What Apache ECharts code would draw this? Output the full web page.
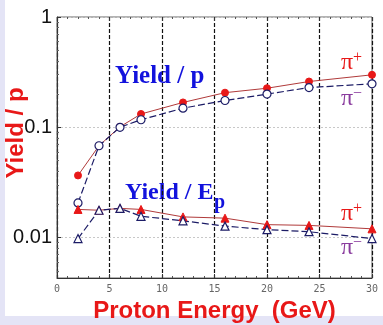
<!DOCTYPE html>
<html>
<head>
    <meta http-equiv="Content-Type" content="text/html; charset=UTF-8">
    <title>Yield vs proton energy</title>
    <script src="https://cdn.jsdelivr.net/npm/echarts@6/dist/echarts.min.js"></script>
    <style>
        html, body { margin: 0; padding: 0; }
    </style>
</head>
<body>
<div id="yieldChart" style="width: 383px; height: 325px;"></div>

<script type="text/javascript">
    // proton beam energy (GeV)
    var energy = [2, 4, 6, 8, 12, 16, 20, 24, 30];
    // yield per proton
    var yieldPiPlus  = [0.0366, 0.068, 0.101, 0.132, 0.168, 0.206, 0.226, 0.26, 0.299];
    var yieldPiMinus = [0.0206, 0.068, 0.100, 0.117, 0.149, 0.175, 0.200, 0.229, 0.248];
    // yield per proton energy
    var yieldEpPiPlus  = [0.0180, 0.0177, 0.0184, 0.0180, 0.0154, 0.0150, 0.0131, 0.0129, 0.0120];
    var yieldEpPiMinus = [0.0098, 0.0177, 0.0184, 0.0156, 0.0142, 0.0127, 0.0118, 0.0113, 0.0098];
    // labelled decades on the log axis
    var yTickLabels = [0.01, 0.1, 1];

    function pairs(ys) {
        var res = [];
        for (var i = 0; i < energy.length; i++) {
            res.push([energy[i], ys[i]]);
        }
        return res;
    }

    var red = '#e81818';
    var navy = '#1c1c66';
    var purple = '#8a3c9e';
    var piFont = '24px "Liberation Serif", serif';
    var supFont = '16px "Liberation Serif", serif';

    function piLabel(x, y, sign, color) {
        return {
            type: 'text', left: x, top: y,
            style: {
                text: '{a|π}{b|' + sign + '}',
                rich: {
                    a: { fill: color, font: piFont, lineHeight: 26 },
                    b: { fill: color, font: supFont, lineHeight: 26, padding: [0, 0, 10, 0] }
                }
            }
        };
    }

    var chart = echarts.init(document.getElementById('yieldChart'));

    chart.setOption({
        backgroundColor: '#e4e4f6',
        animation: false,
        grid: {
            left: 57, right: 11, top: 17, bottom: 47,
            outerBoundsMode: 'none',
            containLabel: false,
            show: true,
            borderColor: '#666',
            borderWidth: 1
        },
        graphic: [
            {   // white panel, lavender edge left & bottom
                type: 'rect', z: -100, silent: true,
                shape: { x: 5, y: 0, width: 378, height: 316 },
                style: { fill: '#ffffff' }
            },
            {   // y axis title
                type: 'text', x: 16, y: 133, rotation: Math.PI / 2,
                style: { text: 'Yield / p', fill: red, align: 'center', verticalAlign: 'middle',
                    font: 'bold 24px "Liberation Sans", Arial, sans-serif' }
            },
            {
                type: 'text', left: 115, top: 64,
                style: { text: 'Yield / p', fill: '#1212dd',
                    font: 'bold 25px "Liberation Serif", serif' }
            },
            {
                type: 'text', left: 125, top: 181,
                style: { text: 'Yield / E', fill: '#1212dd',
                    font: 'bold 24px "Liberation Serif", serif' }
            },
            {
                type: 'text', left: 214, top: 193,
                style: { text: 'p', fill: '#1212dd',
                    font: 'bold 20px "Liberation Serif", serif' }
            },
            piLabel(341, 50, '+', red),
            piLabel(341, 86, '−', purple),
            piLabel(341, 201, '+', red),
            piLabel(341, 235, '−', purple)
        ],
        xAxis: [
            {
                type: 'value',
                min: 0, max: 30, interval: 5,
                name: 'Proton Energy  (GeV)',
                nameLocation: 'middle',
                nameGap: 20,
                nameTextStyle: { color: red, fontSize: 24, fontWeight: 'bold',
                    fontFamily: '"Liberation Sans", Arial, sans-serif' },
                axisLine: { lineStyle: { color: '#333' } },
                axisTick: { inside: true, length: 4, lineStyle: { color: '#333' } },
                minorTick: { show: true, splitNumber: 5, length: 2, lineStyle: { color: '#555' } },
                axisLabel: { color: '#666', fontSize: 10, margin: 6,
                    fontFamily: '"DejaVu Sans Mono", monospace' },
                splitLine: { show: true, lineStyle: { color: '#111', type: [4, 2], width: 1.2 } }
            },
            {   // mirrored ticks along the top edge
                type: 'value', position: 'top',
                min: 0, max: 30, interval: 5,
                axisLine: { show: false },
                axisTick: { inside: true, length: 4, lineStyle: { color: '#333' } },
                minorTick: { show: true, splitNumber: 5, length: 2, lineStyle: { color: '#555' } },
                axisLabel: { show: false },
                splitLine: { show: false }
            }
        ],
        yAxis: {
            type: 'log',
            logBase: 10,
            min: 0.0043, max: 1,
            axisLine: { lineStyle: { color: '#333' } },
            axisTick: { inside: true, length: 4, lineStyle: { color: '#333' } },
            minorTick: { show: true, splitNumber: 9, length: 2, lineStyle: { color: '#666' } },
            axisLabel: {
                color: '#111', fontSize: 20, margin: 5,
                fontFamily: '"Liberation Sans", Arial, sans-serif',
                formatter: function (v) {
                    for (var i = 0; i < yTickLabels.length; i++) {
                        if (Math.abs(v - yTickLabels[i]) < yTickLabels[i] * 1e-6) return String(yTickLabels[i]);
                    }
                    return '';
                }
            },
            splitLine: { show: true, lineStyle: { color: '#c8c8c8', type: [2, 2] } }
        },
        series: [
            {
                name: 'pi+ yield/p', type: 'line', data: pairs(yieldPiPlus),
                symbol: 'circle', symbolSize: 7,
                itemStyle: { color: red, borderColor: red },
                lineStyle: { color: '#b03a3a', width: 1 }
            },
            {
                name: 'pi- yield/p', type: 'line', data: pairs(yieldPiMinus),
                symbol: 'circle', symbolSize: 8,
                itemStyle: { color: '#ffffff', borderColor: navy, borderWidth: 1.2 },
                lineStyle: { color: navy, width: 1.2, type: [7, 3] }
            },
            {
                name: 'pi+ yield/Ep', type: 'line', data: pairs(yieldEpPiPlus),
                symbol: 'triangle', symbolSize: 8,
                itemStyle: { color: red, borderColor: red },
                lineStyle: { color: '#b03a3a', width: 1 }
            },
            {
                name: 'pi- yield/Ep', type: 'line', data: pairs(yieldEpPiMinus),
                symbol: 'triangle', symbolSize: 8,
                itemStyle: { color: '#ffffff', borderColor: navy, borderWidth: 1.2 },
                lineStyle: { color: navy, width: 1.2, type: [7, 3] }
            }
        ]
    });
</script>

</body>
</html>
